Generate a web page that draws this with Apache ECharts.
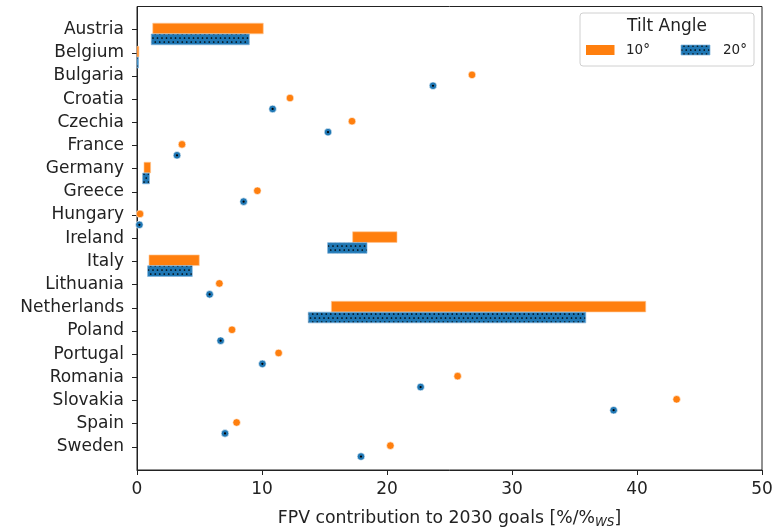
<!DOCTYPE html>
<html>
<head>
<meta charset="utf-8">
<script src="https://cdn.jsdelivr.net/npm/echarts@6/dist/echarts.min.js"></script>
<style>
html,body{margin:0;padding:0;background:#fff;}
#chart{width:778px;height:529px;}
</style>
</head>
<body>
<div id="chart"></div>
<script>
// ---- data ----
var countries = ['Austria','Belgium','Bulgaria','Croatia','Czechia','France','Germany','Greece','Hungary','Ireland','Italy','Lithuania','Netherlands','Poland','Portugal','Romania','Slovakia','Spain','Sweden'];
// 10° tilt: low / high values (equal -> single point)
var tilt10Low  = [1.26, 0.00, 26.80, 12.24, 17.20, 3.60, 0.56, 9.63, 0.24, 17.25, 0.96, 6.59, 15.55, 7.60, 11.33, 25.65, 43.17, 7.97, 20.27];
var tilt10High = [10.10, 0.15, 26.80, 12.24, 17.20, 3.60, 1.09, 9.63, 0.24, 20.80, 4.98, 6.59, 40.70, 7.60, 11.33, 25.65, 43.17, 7.97, 20.27];
// 20° tilt
var tilt20Low  = [1.14, 0.00, 23.68, 10.85, 15.28, 3.20, 0.45, 8.53, 0.19, 15.25, 0.85, 5.81, 13.70, 6.69, 10.03, 22.69, 38.13, 7.04, 17.92];
var tilt20High = [8.98, 0.12, 23.68, 10.85, 15.28, 3.20, 0.99, 8.53, 0.19, 18.40, 4.42, 5.81, 35.90, 6.69, 10.03, 22.69, 38.13, 7.04, 17.92];
var xTicks = [0, 10, 20, 30, 40, 50];
var seriesNames = ['10°', '20°'];

// ---- styles ----
var ORANGE = '#ff7f0e', BLUE = '#1f77b4', TXT = '#222';
function makeHatch() {
  var c = document.createElement('canvas');
  c.width = 9; c.height = 8;
  var g = c.getContext('2d');
  g.fillStyle = BLUE; g.fillRect(0, 0, 9, 8);
  g.fillStyle = '#000';
  var pts = [[2.25, 2], [6.75, 2], [0, 6], [4.5, 6], [9, 6]];
  pts.forEach(function (p) { g.beginPath(); g.arc(p[0], p[1], 0.85, 0, Math.PI * 2); g.fill(); });
  return c;
}
var hatch = makeHatch();

var yCats = [''].concat(countries).concat(['']);

function buildData(lo, hi) {
  return countries.map(function (c, i) { return [lo[i], hi[i], i + 1]; });
}

function makeRender(offset, fill, stroke, dotFill, hatched) {
  return function (params, api) {
    var lo = api.value(0), hi = api.value(1), idx = api.value(2);
    var step = api.size([0, 1])[1];
    var p0 = api.coord([lo, idx]);
    var p1 = api.coord([hi, idx]);
    var cy = p0[1] + offset * step;
    if (lo === hi) {
      var children = [{
        type: 'circle',
        shape: { cx: p0[0], cy: cy, r: 3.8 },
        style: { fill: dotFill, stroke: '#fff', lineWidth: 0.6 }
      }];
      if (hatched) {
        children.push({ type: 'circle', shape: { cx: p0[0], cy: cy, r: 1.1 }, style: { fill: '#000' } });
      }
      return { type: 'group', children: children };
    }
    var h = 0.46 * step;
    return {
      type: 'rect',
      shape: { x: p0[0], y: cy - h / 2, width: Math.max(p1[0] - p0[0], 1.5), height: h },
      style: { fill: fill, stroke: stroke, lineWidth: 0.8 }
    };
  };
}

var chart = echarts.init(document.getElementById('chart'), null, { renderer: 'canvas' });
var option = {
  animation: false,
  backgroundColor: '#fff',
  textStyle: { fontFamily: 'DejaVu Sans' },
  grid: { left: 137, right: 16, top: 6.5, bottom: 59, show: true, borderColor: '#222', borderWidth: 1,
    backgroundColor: 'transparent', containLabel: false, outerBoundsMode: 'none' },
  xAxis: {
    type: 'value', min: 0, max: 50, interval: 10,
    axisLine: { show: true, lineStyle: { color: '#222', width: 1 } },
    axisTick: { show: true, length: 5, lineStyle: { color: '#222' } },
    axisLabel: { color: TXT, fontSize: 17, margin: 11, fontFamily: 'DejaVu Sans',
      formatter: function (v) { return xTicks.indexOf(v) >= 0 ? String(v) : ''; } },
    splitLine: { show: false },
    name: 'FPV contribution to 2030 goals [%/%{ws|WS}]',
    nameLocation: 'middle', nameGap: 39,
    nameTextStyle: { color: TXT, fontSize: 17.3, fontFamily: 'DejaVu Sans',
      rich: { ws: { fontSize: 12, fontStyle: 'italic', color: TXT, fontFamily: 'DejaVu Sans', padding: [8, 0, 0, 0] } } }
  },
  yAxis: {
    type: 'category', data: yCats, inverse: true, boundaryGap: false,
    axisLine: { show: true, lineStyle: { color: '#222', width: 1 } },
    axisTick: { show: true, length: 5, lineStyle: { color: '#222' },
      interval: function (i) { return i > 0 && i < yCats.length - 1; } },
    axisLabel: { color: TXT, fontSize: 17, margin: 13, fontFamily: 'DejaVu Sans', interval: 0 },
    splitLine: { show: false }
  },
  series: [
    { name: seriesNames[0], type: 'custom', data: buildData(tilt10Low, tilt10High), clip: false,
      renderItem: makeRender(-0.05, ORANGE, 'rgba(255,200,150,0.8)', ORANGE, false), z: 3 },
    { name: seriesNames[1], type: 'custom', data: buildData(tilt20Low, tilt20High), clip: false,
      renderItem: makeRender(0.42, { image: hatch, repeat: 'repeat' }, 'rgba(130,180,220,0.9)', BLUE, true), z: 3 }
  ],
  graphic: [
    { type: 'rect', shape: { x: 580, y: 13, width: 174, height: 53, r: 3 },
      style: { fill: 'rgba(255,255,255,0.8)', stroke: '#d0d0d0', lineWidth: 1 }, z: 10 },
    { type: 'text', z: 11,
      style: { x: 667, y: 27, text: 'Tilt Angle', fill: TXT, font: '17px "DejaVu Sans"', textAlign: 'center', textVerticalAlign: 'middle' } },
    { type: 'rect', shape: { x: 586, y: 45, width: 28.5, height: 10 }, style: { fill: ORANGE }, z: 11 },
    { type: 'text', style: { x: 626, y: 50.5, text: seriesNames[0], fill: TXT, font: '13.5px "DejaVu Sans"', textVerticalAlign: 'middle' }, z: 11 },
    { type: 'rect', shape: { x: 681, y: 45, width: 29, height: 10 }, style: { fill: { image: hatch, repeat: 'repeat' }, stroke: 'rgba(130,180,220,0.9)', lineWidth: 0.8 }, z: 11 },
    { type: 'text', style: { x: 723, y: 50.5, text: seriesNames[1], fill: TXT, font: '13.5px "DejaVu Sans"', textVerticalAlign: 'middle' }, z: 11 }
  ]
};
chart.setOption(option);
</script>
</body>
</html>
